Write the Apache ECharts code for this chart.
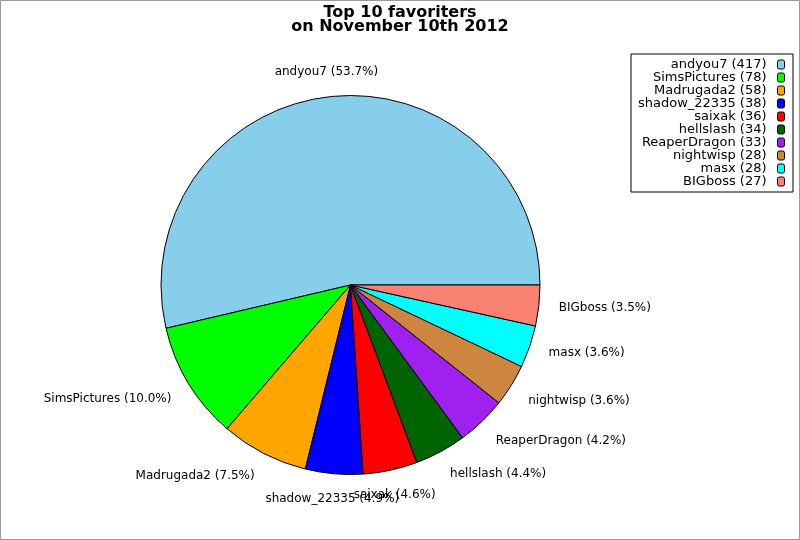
<!DOCTYPE html>
<html>
<head>
<meta charset="utf-8">
<script src="https://cdn.jsdelivr.net/npm/echarts@6/dist/echarts.min.js"></script>
<style>
  html, body { margin: 0; padding: 0; background: #fff; }
  #chart { width: 800px; height: 540px; }
</style>
</head>
<body>
<div id="chart"></div>
<script>
// top 10 favoriters, counts
var names = ['andyou7', 'SimsPictures', 'Madrugada2', 'shadow_22335', 'saixak',
             'hellslash', 'ReaperDragon', 'nightwisp', 'masx', 'BIGboss'];
var counts = [417, 78, 58, 38, 36, 34, 33, 28, 28, 27];
var colors = ['#87ceeb', '#00ff00', '#ffa500', '#0000ff', '#ff0000',
              '#006400', '#a020f0', '#cd853f', '#00ffff', '#fa8072'];

var total = counts.reduce(function (a, b) { return a + b; }, 0);

// mid angle of each slice (counterclockwise from 3 o'clock)
function midAngle(i) {
    var before = 0;
    for (var k = 0; k < i; k++) before += counts[k];
    return (before + counts[i] / 2) / total * Math.PI * 2;
}

var font = 'DejaVu Sans';

var option = {
    animation: false,
    backgroundColor: '#fff',
    title: {
        text: 'Top 10 favoriters\non November 10th 2012',
        left: 'center',
        top: 1,
        textStyle: {
            fontFamily: font,
            fontWeight: 'bold',
            fontSize: 16,
            lineHeight: 14,
            color: '#000'
        }
    },
    legend: {
        orient: 'vertical',
        right: 7,
        top: 54,
        align: 'right',
        padding: [4, 8, 4, 7],
        itemGap: 0,
        itemWidth: 7,
        itemHeight: 9,
        backgroundColor: '#fff',
        borderColor: '#000',
        borderWidth: 1,
        borderRadius: 0,
        selectedMode: false,
        itemStyle: { borderColor: '#000', borderWidth: 1 },
        textStyle: {
            fontFamily: font,
            fontSize: 13,
            lineHeight: 11,
            color: '#000',
            padding: [0, 6, 0, 0]
        },
        formatter: function (name) {
            return name + ' (' + counts[names.indexOf(name)] + ')';
        },
        data: names
    },
    graphic: [{
        type: 'rect',
        silent: true,
        shape: { x: 0.5, y: 0.5, width: 799, height: 539 },
        style: { fill: 'none', stroke: '#999', lineWidth: 1 }
    }],
    series: [{
        type: 'pie',
        center: [350.5, 285],
        radius: 189.5,
        startAngle: 0,
        clockwise: false,
        avoidLabelOverlap: false,
        emphasis: { disabled: true },
        itemStyle: { borderColor: '#000', borderWidth: 1 },
        label: {
            show: true,
            position: 'outside',
            fontFamily: font,
            fontSize: 12,
            color: '#000',
            distanceToLabelLine: 0,
            formatter: function (p) {
                return p.name + ' (' + (p.value / total * 100).toFixed(1) + '%)';
            }
        },
        labelLine: { show: false, length: 20, length2: 0 },
        // labels near the top/bottom sit centred on their slice,
        // steep ones are pushed a little further out
        labelLayout: function (params) {
            var a = midAngle(params.dataIndex);
            var s = Math.sin(a);
            var res = {};
            if (Math.abs(Math.cos(a)) < 0.3) res.align = 'center';
            if (Math.abs(s) > 0.4) res.dy = s > 0 ? -5 : 5;
            return res;
        },
        data: names.map(function (n, i) {
            return { name: n, value: counts[i], itemStyle: { color: colors[i] } };
        })
    }]
};

var chart = echarts.init(document.getElementById('chart'));
chart.setOption(option);
</script>
</body>
</html>
